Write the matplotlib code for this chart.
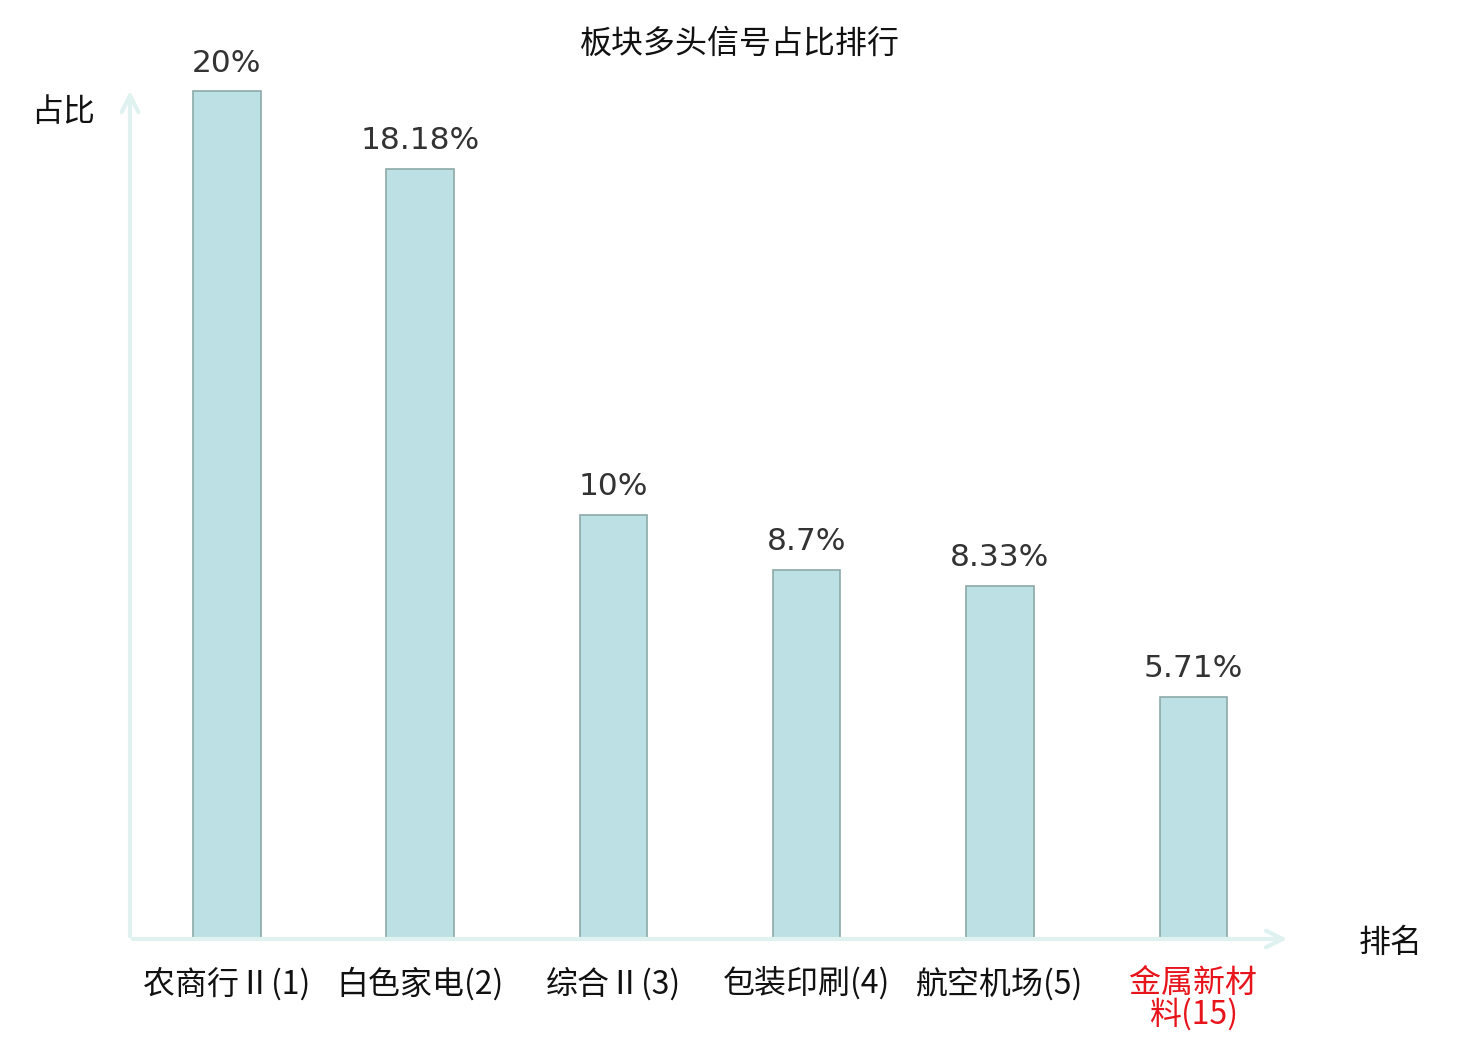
import matplotlib
matplotlib.use("Agg")
import matplotlib.pyplot as plt

plt.rcParams['font.family'] = ['Noto Sans CJK SC', 'DejaVu Sans']

# 数据
categories = ['农商行Ⅱ(1)', '白色家电(2)', '综合Ⅱ(3)', '包装印刷(4)', '航空机场(5)', '金属新材\n料(15)']
values = [20, 18.18, 10, 8.7, 8.33, 5.71]
value_labels = ['20%', '18.18%', '10%', '8.7%', '8.33%', '5.71%']
label_colors = ['#111111', '#111111', '#111111', '#111111', '#111111', '#e8141c']

fig = plt.figure(figsize=(14.8, 10.4), dpi=100)
ax = fig.add_axes([130 / 1480, 101 / 1040, 1160 / 1480, 851 / 1040])

x = list(range(len(categories)))
ax.bar(x, values, width=0.35, color='#bce0e3', edgecolor='#8ea9aa', linewidth=1.2)

for xi, v, lab in zip(x, values, value_labels):
    ax.annotate(lab, (xi, v), xytext=(0, 10), textcoords='offset points',
                ha='center', va='bottom', fontsize=22.5, color='#333333',
                family='DejaVu Sans')

ax.set_xlim(-0.5, 5.5)
ax.set_ylim(0, 20.08)
ax.set_xticks(x)
ax.set_xticklabels(categories, fontsize=23, linespacing=0.98)
for t, c in zip(ax.get_xticklabels(), label_colors):
    t.set_color(c)
    t.set_verticalalignment('top')
ax.tick_params(axis='x', length=0, pad=20)
ax.set_yticks([])
for s in ax.spines.values():
    s.set_visible(False)

# 坐标轴箭头
axis_color = '#dff2ef'
ax.annotate('', xy=(1.0, 0), xytext=(0, 0), xycoords='axes fraction',
            arrowprops=dict(arrowstyle='->', color=axis_color, lw=3,
                            mutation_scale=30), annotation_clip=False)
ax.annotate('', xy=(0, 1.0), xytext=(0, 0), xycoords='axes fraction',
            arrowprops=dict(arrowstyle='->', color=axis_color, lw=3,
                            mutation_scale=30), annotation_clip=False)

fig.text(63 / 1480, 1 - 112 / 1040, '占比', fontsize=23, ha='center', va='center', color='#111111')
fig.text(1391 / 1480, 1 - 943 / 1040, '排名', fontsize=23, ha='center', va='center', color='#111111')
fig.text(740 / 1480, 1 - 44 / 1040, '板块多头信号占比排行', fontsize=23, ha='center', va='center', color='#111111')

fig.savefig('out.png', dpi=100)
